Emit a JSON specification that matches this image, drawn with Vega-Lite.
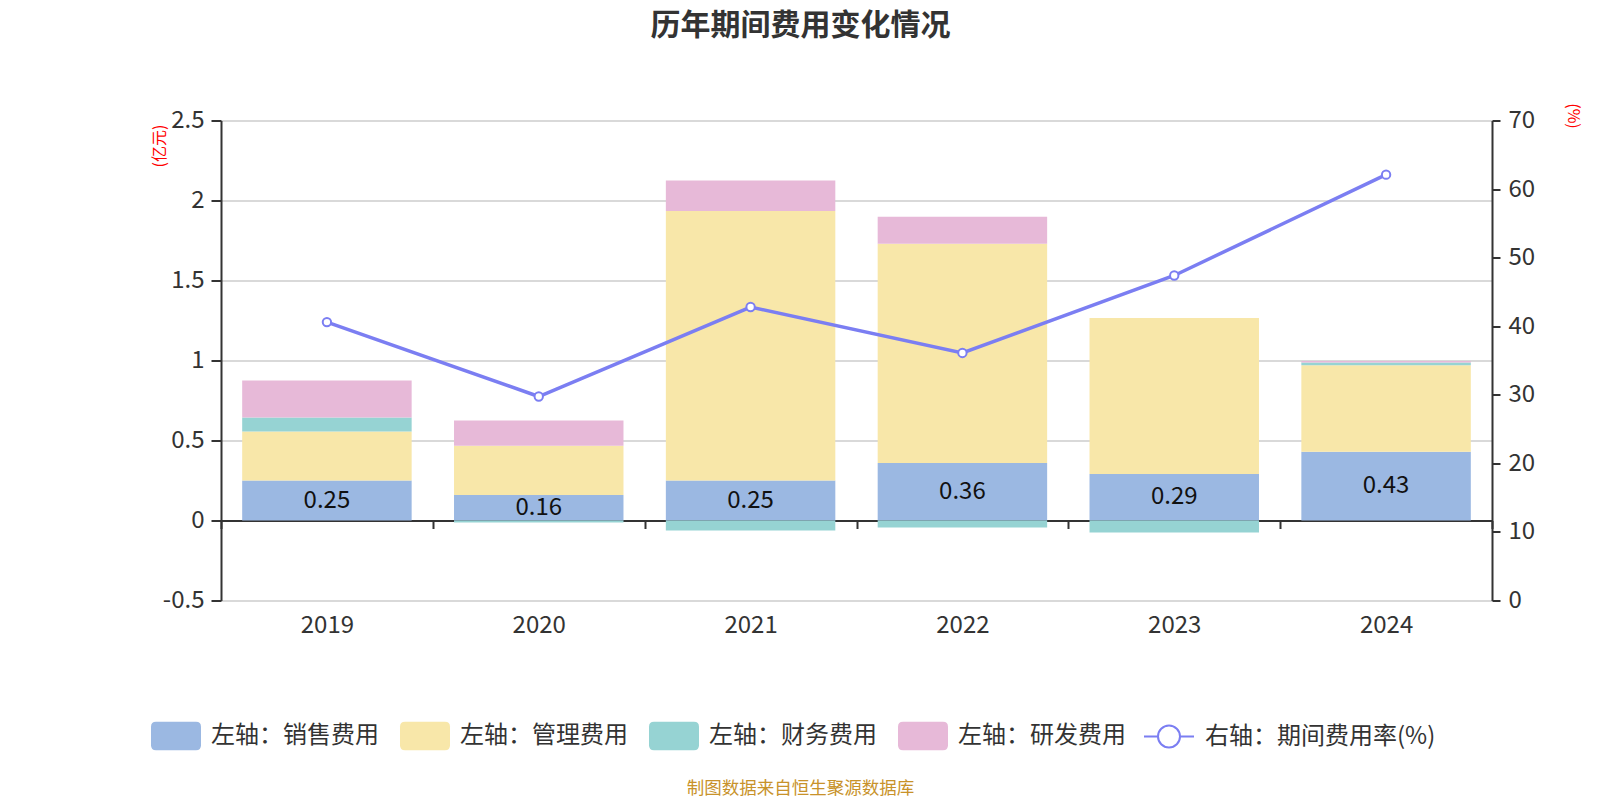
{
  "$schema": "https://vega.github.io/schema/vega-lite/v6.json",
  "autosize": {"type": "none"},
  "width": 1271,
  "height": 480,
  "padding": {"left": 221, "top": 120.5, "right": 108, "bottom": 199.5},
  "background": "#ffffff",
  "title": {
    "text": "历年期间费用变化情况",
    "fontSize": 30,
    "fontWeight": "bold",
    "color": "#333333",
    "font": "Noto Sans CJK SC",
    "anchor": "middle",
    "dx": -56,
    "offset": 62
  },
  "datasets": {
    "costs": [
      {"year": "2019", "s": "销售费用", "i": 1, "v": 0.25},
      {"year": "2019", "s": "管理费用", "i": 2, "v": 0.306},
      {"year": "2019", "s": "财务费用", "i": 3, "v": 0.088},
      {"year": "2019", "s": "研发费用", "i": 4, "v": 0.231},
      {"year": "2020", "s": "销售费用", "i": 1, "v": 0.16},
      {"year": "2020", "s": "管理费用", "i": 2, "v": 0.307},
      {"year": "2020", "s": "财务费用", "i": 3, "v": -0.0125},
      {"year": "2020", "s": "研发费用", "i": 4, "v": 0.158},
      {"year": "2021", "s": "销售费用", "i": 1, "v": 0.25},
      {"year": "2021", "s": "管理费用", "i": 2, "v": 1.685},
      {"year": "2021", "s": "财务费用", "i": 3, "v": -0.0625},
      {"year": "2021", "s": "研发费用", "i": 4, "v": 0.19},
      {"year": "2022", "s": "销售费用", "i": 1, "v": 0.36},
      {"year": "2022", "s": "管理费用", "i": 2, "v": 1.37},
      {"year": "2022", "s": "财务费用", "i": 3, "v": -0.044},
      {"year": "2022", "s": "研发费用", "i": 4, "v": 0.169},
      {"year": "2023", "s": "销售费用", "i": 1, "v": 0.29},
      {"year": "2023", "s": "管理费用", "i": 2, "v": 0.975},
      {"year": "2023", "s": "财务费用", "i": 3, "v": -0.075},
      {"year": "2023", "s": "研发费用", "i": 4, "v": 0.0},
      {"year": "2024", "s": "销售费用", "i": 1, "v": 0.43},
      {"year": "2024", "s": "管理费用", "i": 2, "v": 0.54},
      {"year": "2024", "s": "财务费用", "i": 3, "v": 0.017},
      {"year": "2024", "s": "研发费用", "i": 4, "v": 0.01}
    ],
    "rate": [
      {"year": "2019", "r": 40.6},
      {"year": "2020", "r": 29.75},
      {"year": "2021", "r": 42.8},
      {"year": "2022", "r": 36.1},
      {"year": "2023", "r": 47.4},
      {"year": "2024", "r": 62.1}
    ]
  },
  "encoding": {
    "x": {
      "field": "year",
      "type": "nominal",
      "scale": {"paddingInner": 0, "paddingOuter": 0},
      "axis": {
        "title": "制图数据来自恒生聚源数据库",
        "titleFontSize": 17.5,
        "titleFontWeight": "normal",
        "titleColor": "#c8922a",
        "titleFont": "Noto Sans CJK SC",
        "titleX": 579,
        "titleY": 268,
        "titleAlign": "center",
        "titleBaseline": "middle",
        "titleAnchor": null,
        "offset": -80,
        "labelAngle": 0,
        "labelFont": "Noto Sans CJK SC",
        "labelFontSize": 24,
        "labelColor": "#333333",
        "labelPadding": 85,
        "tickBand": "extent",
        "tickSize": 8,
        "tickWidth": 2,
        "tickColor": "#333333",
        "domainColor": "#333333",
        "domainWidth": 2,
        "grid": false
      }
    }
  },
  "layer": [
    {
      "data": {"name": "costs"},
      "mark": {"type": "bar", "width": {"band": 0.8}},
      "encoding": {
        "y": {
          "field": "v",
          "type": "quantitative",
          "stack": "zero",
          "scale": {"domain": [-0.5, 2.5], "nice": false, "zero": false},
          "axis": {
            "title": "(亿元)",
            "titleColor": "#ff0000",
            "titleFontSize": 16,
            "titleFontWeight": "normal",
            "titleFont": "Noto Sans CJK SC",
            "titleAngle": -90,
            "titleX": -62,
            "titleY": 25,
            "titleAlign": "center",
            "titleBaseline": "middle",
            "titleAnchor": null,
            "values": [-0.5, 0, 0.5, 1, 1.5, 2, 2.5],
            "labelExpr": "toString(datum.value)",
            "labelFont": "Noto Sans CJK SC",
            "labelFontSize": 24,
            "labelColor": "#333333",
            "labelPadding": 7,
            "tickSize": 10,
            "tickWidth": 2,
            "tickColor": "#333333",
            "domainColor": "#333333",
            "domainWidth": 2,
            "grid": true,
            "gridColor": "#cccccc",
            "gridWidth": 1.5
          }
        },
        "color": {
          "field": "s",
          "type": "nominal",
          "scale": {
            "domain": ["销售费用", "管理费用", "财务费用", "研发费用"],
            "range": ["#9bb8e2", "#f8e7a9", "#96d3d3", "#e7b9d8"]
          },
          "legend": {
            "title": null,
            "orient": "none",
            "direction": "horizontal",
            "legendX": -70,
            "legendY": 590,
            "labelExpr": "'左轴：' + datum.label",
            "labelFont": "Noto Sans CJK SC",
            "labelFontSize": 24,
            "labelColor": "#333333",
            "labelOffset": 10,
            "labelLimit": 400,
            "columnPadding": 21,
            "symbolType": "M-0.8,-0.57H0.8Q1,-0.57,1,-0.37V0.37Q1,0.57,0.8,0.57H-0.8Q-1,0.57,-1,0.37V-0.37Q-1,-0.57,-0.8,-0.57Z",
            "symbolSize": 2500,
            "symbolStrokeWidth": 0,
            "symbolOpacity": 1
          }
        },
        "order": {"field": "i", "type": "quantitative"}
      }
    },
    {
      "data": {"name": "costs"},
      "transform": [{"filter": "datum.s == '销售费用'"}],
      "mark": {
        "type": "text",
        "font": "Noto Sans CJK SC",
        "fontSize": 24,
        "color": "#111111",
        "baseline": "middle",
        "align": "center"
      },
      "encoding": {
        "y": {
          "field": "v",
          "type": "quantitative",
          "scale": {"domain": [-1, 5], "nice": false, "zero": false},
          "axis": null
        },
        "text": {"field": "v", "type": "quantitative", "format": ".2f"}
      }
    },
    {
      "data": {"name": "rate"},
      "mark": {
        "type": "line",
        "strokeWidth": 3.5,
        "point": {"filled": false, "fill": "#ffffff", "size": 70, "strokeWidth": 2}
      },
      "encoding": {
        "y": {
          "field": "r",
          "type": "quantitative",
          "scale": {"domain": [0, 70], "nice": false},
          "axis": {
            "orient": "right",
            "title": "(%)",
            "titleColor": "#ff0000",
            "titleFontSize": 16,
            "titleFontWeight": "normal",
            "titleFont": "Noto Sans CJK SC",
            "titleAngle": 90,
            "titleX": 80,
            "titleY": -5,
            "titleAlign": "center",
            "titleBaseline": "middle",
            "titleAnchor": null,
            "values": [0, 10, 20, 30, 40, 50, 60, 70],
            "labelFont": "Noto Sans CJK SC",
            "labelFontSize": 24,
            "labelColor": "#333333",
            "labelPadding": 8,
            "tickSize": 8,
            "tickWidth": 2,
            "tickColor": "#333333",
            "domainColor": "#333333",
            "domainWidth": 2,
            "grid": false
          }
        },
        "color": {
          "datum": "右轴：期间费用率(%)",
          "type": "nominal",
          "scale": {"range": ["#7b7ef2"]},
          "legend": {
            "title": null,
            "orient": "none",
            "direction": "horizontal",
            "legendX": 922,
            "legendY": 590,
            "labelFont": "Noto Sans CJK SC",
            "labelFontSize": 24,
            "labelColor": "#333333",
            "labelOffset": 10,
            "labelLimit": 400,
            "symbolType": "M-1,0H-0.44M0.44,0H1M0.44,0A0.44,0.44,0,1,1,-0.44,0A0.44,0.44,0,1,1,0.44,0Z",
            "symbolSize": 2500,
            "symbolStrokeWidth": 2,
            "symbolFillColor": "#ffffff",
            "symbolOpacity": 1
          }
        }
      }
    }
  ],
  "resolve": {"scale": {"y": "independent", "color": "independent"}},
  "config": {
    "view": {"stroke": null},
    "font": "Noto Sans CJK SC"
  }
}
